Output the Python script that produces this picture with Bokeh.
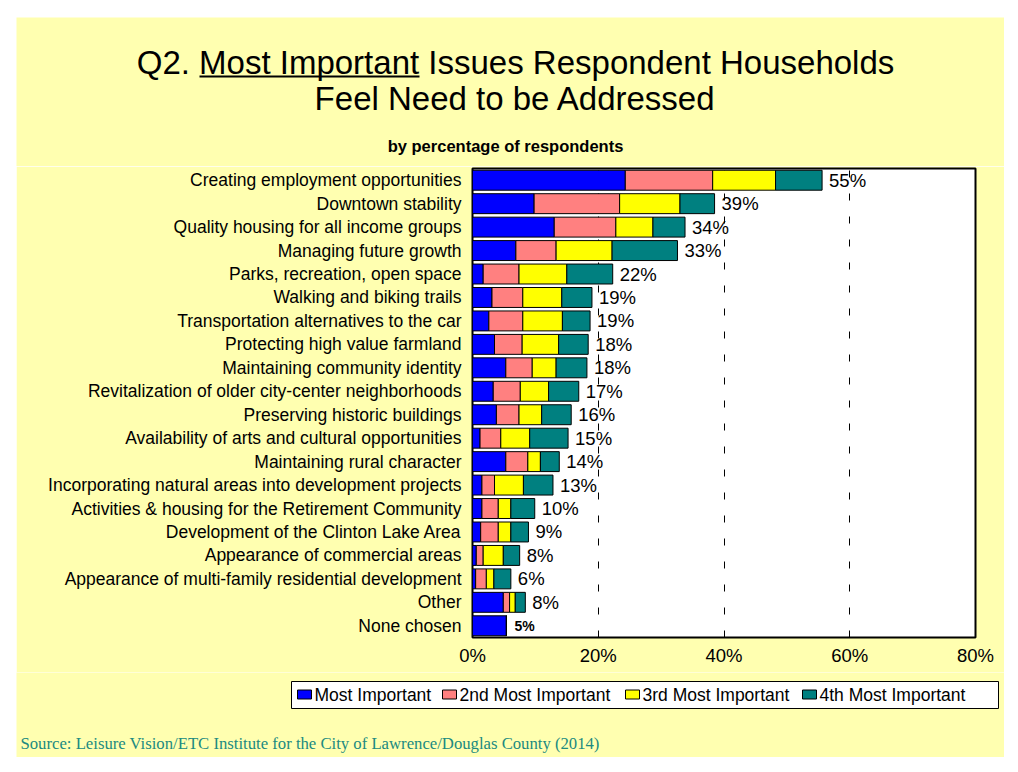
from bokeh.plotting import figure
from bokeh.models import (ColumnDataSource, FactorRange, Range1d, FixedTicker)
from bokeh.layouts import column, row
from bokeh.core.properties import value
from bokeh.embed import file_html
from bokeh.resources import INLINE

# ---------------- data ----------------
categories = [
    "Creating employment opportunities",
    "Downtown stability",
    "Quality housing for all income groups",
    "Managing future growth",
    "Parks, recreation, open space",
    "Walking and biking trails",
    "Transportation alternatives to the car",
    "Protecting high value farmland",
    "Maintaining community identity",
    "Revitalization of older city-center neighborhoods",
    "Preserving historic buildings",
    "Availability of arts and cultural opportunities",
    "Maintaining rural character",
    "Incorporating natural areas into development projects",
    "Activities & housing for the Retirement Community",
    "Development of the Clinton Lake Area",
    "Appearance of commercial areas",
    "Appearance of multi-family residential development",
    "Other",
    "None chosen",
]
most_important = [24.3, 9.8, 13.0, 6.9, 1.7, 3.1, 2.6, 3.5, 5.3, 3.3, 3.8, 1.2, 5.3, 1.5, 1.5, 1.3, 0.6, 0.5, 4.9, 5.4]
second_most = [13.9, 13.6, 9.8, 6.4, 5.7, 4.9, 5.4, 4.4, 4.2, 4.3, 3.6, 3.3, 3.5, 2.0, 2.6, 2.8, 1.1, 1.7, 1.0, 0.0]
third_most = [10.0, 9.6, 5.9, 8.9, 7.6, 6.2, 6.3, 5.8, 3.8, 4.5, 3.6, 4.6, 2.0, 4.6, 2.0, 2.0, 3.2, 1.2, 0.9, 0.0]
fourth_most = [7.4, 5.5, 5.1, 10.4, 7.3, 4.8, 4.4, 4.7, 4.9, 4.8, 4.7, 6.1, 3.0, 4.7, 3.8, 2.8, 2.6, 2.7, 1.6, 0.0]
value_labels = ["55%", "39%", "34%", "33%", "22%", "19%", "19%", "18%", "18%", "17%",
                "16%", "15%", "14%", "13%", "10%", "9%", "8%", "6%", "8%", "5%"]
series_names = ["Most Important", "2nd Most Important", "3rd Most Important", "4th Most Important"]
x_ticks = [0, 20, 40, 60, 80]
x_tick_labels = ["0%", "20%", "40%", "60%", "80%"]

title_lines = ["Q2. Most Important Issues Respondent Households", "Feel Need to be Addressed"]
subtitle = "by percentage of respondents"
source_note = "Source:  Leisure Vision/ETC Institute for the City of Lawrence/Douglas County (2014)"

# ---------------- styles ----------------
colors = ["#0000FF", "#FF8080", "#FFFF00", "#008080"]
FONT = "Liberation Sans"
SERIF = "Liberation Serif"
BG = "#FFFFB0"
BODY = 0                          # layout root sits at the page origin
PAGE_L, PAGE_T, PAGE_R, PAGE_B = 16, 17, 1004, 757   # yellow panel on the page
FR_L, FR_R, FR_T, FR_B = 472, 975, 168, 637          # bar-chart frame on the page
HEAD_B = 166                      # header / chart split
CHART_B = 672                     # chart / footer split
MID = 0.3465                      # baseline -> middle offset (em)

totals = [a + b + c + d for a, b, c, d in zip(most_important, second_most, third_most, fourth_most)]


def deco_fig(top, bottom):
    """A figure whose frame covers its whole area, in page-pixel coordinates."""
    f = figure(width=PAGE_R - BODY, height=bottom - top,
               x_range=Range1d(BODY, PAGE_R), y_range=Range1d(bottom, top),
               output_backend="svg", toolbar_location=None,
               x_axis_location=None, y_axis_location=None,
               min_border=0, min_border_left=0, min_border_right=0,
               min_border_top=0, min_border_bottom=0, frame_align=False)
    f.background_fill_color = "white"
    f.border_fill_color = "white"
    f.outline_line_color = None
    f.grid.visible = False
    q_top = PAGE_T if top < PAGE_T else top - 5
    q_bot = PAGE_B if bottom >= PAGE_B else bottom + 5
    f.quad(left=[PAGE_L], right=[PAGE_R + 5], top=[q_top], bottom=[q_bot],
           fill_color=BG, line_color=None)
    return f


def mid(baseline, size):
    return baseline - MID * size


# ---------------- header ----------------
head = deco_fig(BODY, HEAD_B)
head.text(x=[515, 515], y=[mid(73, 33), mid(109, 33)], text=title_lines, text_font=value(FONT),
          text_font_size="33px", text_align="center", text_baseline="middle",
          text_color="black")
head.segment(x0=[199], y0=[76], x1=[419], y1=[76], line_color="black", line_width=2)
head.text(x=[505], y=[mid(151, 16.5)], text=[subtitle], text_font=value(FONT),
          text_font_size="16.5px", text_font_style="bold", text_align="center",
          text_baseline="middle", text_color="black")

# ---------------- chart ----------------
p = figure(width=PAGE_R - PAGE_L, height=CHART_B - HEAD_B,
           y_range=FactorRange(factors=categories[::-1]),
           x_range=Range1d(x_ticks[0], x_ticks[-1]),
           output_backend="svg", toolbar_location=None, frame_align=False,
           min_border_left=FR_L - PAGE_L, min_border_right=PAGE_R - FR_R,
           min_border_top=FR_T - HEAD_B, min_border_bottom=CHART_B - FR_B)
p.border_fill_color = BG
p.background_fill_color = "white"
p.outline_line_color = "black"
p.outline_line_width = 2

src = ColumnDataSource(dict(cat=categories, most=most_important, second=second_most,
                            third=third_most, fourth=fourth_most))
renderers = p.hbar_stack(["most", "second", "third", "fourth"], y="cat", height=0.85,
                         color=colors, line_color="black", line_width=1, source=src)

src_lab = ColumnDataSource(dict(x=totals[:-1], y=categories[:-1], t=value_labels[:-1]))
p.text(x="x", y="y", text="t", source=src_lab, x_offset=7, text_baseline="middle",
       text_align="left", text_font=value(FONT), text_font_size="18.5px", text_color="black")
src_last = ColumnDataSource(dict(x=totals[-1:], y=categories[-1:], t=value_labels[-1:]))
p.text(x="x", y="y", text="t", source=src_last, x_offset=8, text_baseline="middle",
       text_align="left", text_font=value(FONT), text_font_size="14px",
       text_font_style="bold", text_color="black")

p.ygrid.grid_line_color = None
p.xgrid.ticker = FixedTicker(ticks=x_ticks[1:-1])
p.xgrid.grid_line_color = "black"
p.xgrid.grid_line_dash = "7 16"
p.xgrid.grid_line_width = 1

p.xaxis.ticker = FixedTicker(ticks=x_ticks)
p.xaxis.major_label_overrides = dict(zip(x_ticks, x_tick_labels))
for ax in (p.xaxis[0], p.yaxis[0]):
    ax.axis_line_color = None
    ax.major_tick_line_color = None
    ax.minor_tick_line_color = None
    ax.major_tick_out = 0
    ax.major_tick_in = 0
    ax.major_label_text_font = FONT
    ax.major_label_text_color = "black"
p.xaxis.major_label_text_font_size = "18.5px"
p.xaxis.major_label_standoff = 7
p.yaxis.major_label_text_font_size = "17.5px"
p.yaxis.major_label_standoff = 11

# white strip left of the chart (outside the yellow panel)
strip = figure(width=PAGE_L - BODY, height=CHART_B - HEAD_B, output_backend="svg",
               toolbar_location=None, x_axis_location=None, y_axis_location=None,
               min_border=0, min_border_left=0, min_border_right=0,
               min_border_top=0, min_border_bottom=0, frame_align=False)
strip.background_fill_color = "white"
strip.border_fill_color = "white"
strip.outline_line_color = None
strip.grid.visible = False

# ---------------- footer: legend + source ----------------
foot = deco_fig(CHART_B, PAGE_B)
foot.quad(left=[291], right=[998], top=[681], bottom=[708], fill_color="white",
          line_color="black", line_width=1)
legend_sq_x = [297, 442, 625, 802]
foot.rect(x=[x + 7 for x in legend_sq_x], y=[694] * 4, width=14, height=9,
          fill_color=colors, line_color="black", line_width=1)
foot.text(x=[x + 17 for x in legend_sq_x], y=[694.5] * 4, text=series_names,
          text_font=value(FONT), text_font_size="17.5px", text_align="left",
          text_baseline="middle", text_color="black")
foot.text(x=[20], y=[mid(749, 16.7)], text=[source_note], text_font=value(SERIF),
          text_font_size="16.7px", text_align="left", text_baseline="middle",
          text_color="#208A80")

layout = column(head, row(strip, p, spacing=0), foot, spacing=0)

open("out.html", "w").write(file_html(layout, INLINE))
